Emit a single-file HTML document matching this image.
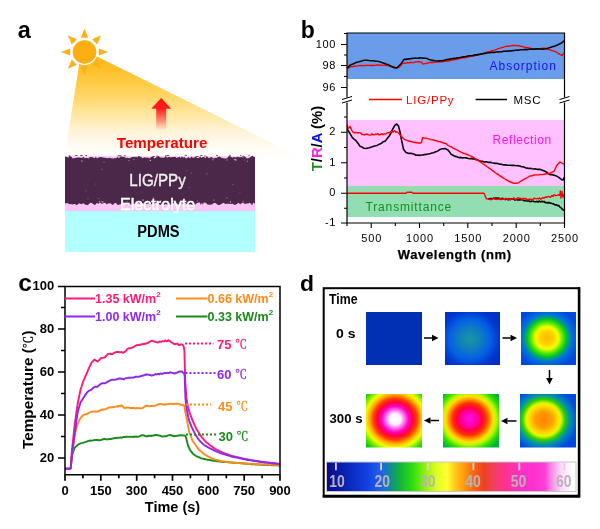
<!DOCTYPE html>
<html><head><meta charset="utf-8"><title>Figure</title>
<style>
html,body{margin:0;padding:0;background:#fff;}
svg{display:block;}
text{font-family:"Liberation Sans","Noto Sans CJK SC",sans-serif;}
.b{font-weight:bold;}
</style></head><body>
<svg width="600" height="529" viewBox="0 0 600 529">
<defs>
<linearGradient id="beam" x1="0" y1="0" x2="0" y2="1">
<stop offset="0" stop-color="#fdb81a"/><stop offset="0.147" stop-color="#fdc02a"/><stop offset="0.36" stop-color="#fed25a"/><stop offset="0.56" stop-color="#fee59a"/><stop offset="0.765" stop-color="#fff5dc"/><stop offset="0.93" stop-color="#fffdf8"/><stop offset="1" stop-color="#fffefc"/>
</linearGradient>
<linearGradient id="arr" x1="0" y1="0" x2="0" y2="1">
<stop offset="0" stop-color="#ff1010"/><stop offset="0.35" stop-color="#ff2020"/><stop offset="0.7" stop-color="#ff4040" stop-opacity="0.6"/><stop offset="1" stop-color="#ff6060" stop-opacity="0.08"/>
</linearGradient>
<linearGradient id="cbar" x1="0" y1="0" x2="1" y2="0">
<stop offset="0" stop-color="#08088a"/>
<stop offset="0.066" stop-color="#0820b0"/>
<stop offset="0.161" stop-color="#1040e0"/>
<stop offset="0.217" stop-color="#2060f0"/>
<stop offset="0.255" stop-color="#108c90"/>
<stop offset="0.29" stop-color="#10b040"/>
<stop offset="0.347" stop-color="#30e010"/>
<stop offset="0.395" stop-color="#90f010"/>
<stop offset="0.442" stop-color="#e0ff20"/>
<stop offset="0.483" stop-color="#ffff30"/>
<stop offset="0.515" stop-color="#ffc818"/>
<stop offset="0.547" stop-color="#ffa010"/>
<stop offset="0.595" stop-color="#f86010"/>
<stop offset="0.631" stop-color="#f04020"/>
<stop offset="0.67" stop-color="#f04060"/>
<stop offset="0.715" stop-color="#ff3090"/>
<stop offset="0.772" stop-color="#ff30c0"/>
<stop offset="0.828" stop-color="#ff30d0"/>
<stop offset="0.876" stop-color="#ff40d8"/>
<stop offset="0.904" stop-color="#ff90e8"/>
<stop offset="0.94" stop-color="#ffd8f8"/>
<stop offset="0.985" stop-color="#ffffff"/>
</linearGradient>
<radialGradient id="t2" cx="0.45" cy="0.51" r="0.62">
<stop offset="0" stop-color="#1a96a0"/><stop offset="0.3" stop-color="#1080bc"/><stop offset="0.6" stop-color="#0460e4"/><stop offset="0.85" stop-color="#0038d0"/><stop offset="1" stop-color="#0030c4"/>
</radialGradient>
<radialGradient id="t3" cx="0.47" cy="0.49" r="0.585">
<stop offset="0" stop-color="#ffb800"/><stop offset="0.2" stop-color="#ffd000"/><stop offset="0.36" stop-color="#f4ff00"/><stop offset="0.5" stop-color="#50e800"/><stop offset="0.62" stop-color="#00c030"/><stop offset="0.75" stop-color="#0078d8"/><stop offset="1" stop-color="#0048e0"/>
</radialGradient>
<radialGradient id="t6" cx="0.42" cy="0.48" r="0.615">
<stop offset="0" stop-color="#ff8400"/><stop offset="0.25" stop-color="#ff9c00"/><stop offset="0.4" stop-color="#ffd800"/><stop offset="0.5" stop-color="#e8f800"/><stop offset="0.62" stop-color="#30d000"/><stop offset="0.76" stop-color="#0090b0"/><stop offset="1" stop-color="#0048e0"/>
</radialGradient>
<radialGradient id="t5" cx="0.47" cy="0.47" r="0.665">
<stop offset="0" stop-color="#ff10e0"/><stop offset="0.2" stop-color="#ff00b0"/><stop offset="0.33" stop-color="#ff0040"/><stop offset="0.45" stop-color="#ff3000"/><stop offset="0.55" stop-color="#ff9000"/><stop offset="0.64" stop-color="#ffe000"/><stop offset="0.72" stop-color="#c0f800"/><stop offset="0.85" stop-color="#30e000"/><stop offset="1" stop-color="#00b040"/>
</radialGradient>
<radialGradient id="t4" cx="0.52" cy="0.47" r="0.72">
<stop offset="0" stop-color="#ffffff"/><stop offset="0.14" stop-color="#fff0ff"/><stop offset="0.24" stop-color="#ff70f0"/><stop offset="0.34" stop-color="#ff00c0"/><stop offset="0.44" stop-color="#ff0040"/><stop offset="0.54" stop-color="#ff4000"/><stop offset="0.64" stop-color="#ffb000"/><stop offset="0.74" stop-color="#f0ff00"/><stop offset="0.88" stop-color="#50e000"/><stop offset="1" stop-color="#00c020"/>
</radialGradient>
</defs>
<rect width="600" height="529" fill="#fff"/>

<g id="panel-a">
<text x="17.800" y="38.300" class="b" font-size="23.5">a</text>
<polygon points="80.5,56 94,55 300,157 64.5,157" fill="url(#beam)"/>
<circle cx="84.5" cy="52" r="13" fill="#fff"/>
<polygon points="98.8,55.6 98.8,48.4 108.1,52.0" fill="#fdb116"/>
<polygon points="92.1,64.7 97.2,59.6 101.2,68.7" fill="#fdb116"/>
<polygon points="80.9,66.3 88.1,66.3 84.5,75.6" fill="#fdb116"/>
<polygon points="71.8,59.6 76.9,64.7 67.8,68.7" fill="#fdb116"/>
<polygon points="70.2,48.4 70.2,55.6 60.9,52.0" fill="#fdb116"/>
<polygon points="76.9,39.3 71.8,44.4 67.8,35.3" fill="#fdb116"/>
<polygon points="88.1,37.7 80.9,37.7 84.5,28.4" fill="#fdb116"/>
<polygon points="97.2,44.4 92.1,39.3 101.2,35.3" fill="#fdb116"/>
<circle cx="84.5" cy="52" r="11.8" fill="#fcae12"/>
<polygon points="161.200,98 171.200,108.800 166.200,108.800 166.200,129.500 156.200,129.500 156.200,108.800 151.200,108.800" fill="url(#arr)"/>
<text x="116.800" y="148.200" class="b" font-size="15.3" fill="#ff0000" textLength="90.600" lengthAdjust="spacingAndGlyphs">Temperature</text>
<rect x="65" y="210.600" width="190" height="41.400" fill="#b1ffff"/>
<rect x="65" y="156.2" width="190" height="55" fill="#fbc4f5"/>
<polygon points="65.0,156.6 66.7,157.0 68.4,157.6 69.3,156.0 71.5,156.7 72.7,158.6 74.2,158.2 75.8,157.7 76.8,157.7 79.0,157.4 81.0,157.7 81.9,158.0 83.6,156.8 84.5,158.3 86.0,157.9 88.2,157.9 90.5,157.0 92.6,157.2 94.9,158.3 95.9,156.4 97.0,158.5 98.5,157.6 99.8,157.3 101.2,156.9 102.9,157.5 105.2,157.8 107.5,158.2 109.9,157.7 110.9,158.2 113.3,158.4 115.0,157.9 116.1,158.2 117.8,156.7 118.7,158.2 121.1,156.2 123.2,157.1 124.2,156.8 126.3,158.3 127.1,157.6 128.0,157.9 129.3,158.3 131.7,157.3 134.1,156.8 135.0,157.6 135.9,156.5 137.3,157.6 138.4,156.1 140.6,156.8 142.9,158.3 144.3,157.2 145.9,157.7 147.7,157.5 149.5,158.4 151.1,157.1 153.0,156.6 154.3,158.5 156.0,157.4 156.8,157.1 158.5,156.1 160.3,157.6 161.2,157.6 162.7,157.8 164.1,157.8 166.1,156.1 167.0,157.8 169.3,156.7 170.8,157.5 172.2,156.9 173.5,157.0 175.2,156.8 176.6,158.0 177.5,157.5 179.4,156.8 180.6,158.1 181.8,156.5 183.3,157.8 184.2,156.8 185.6,158.2 187.1,158.2 188.1,156.9 190.0,158.3 191.5,156.6 192.5,157.4 193.6,158.1 195.7,156.5 197.0,158.1 198.8,158.1 200.2,156.3 201.4,158.1 202.7,156.9 204.1,157.1 205.6,158.4 206.6,156.0 208.9,158.3 211.3,157.1 213.6,158.4 214.8,157.9 216.9,157.7 218.6,156.8 219.9,156.6 220.8,157.5 222.1,158.1 223.0,158.3 224.9,158.4 227.1,158.3 228.8,156.0 230.8,156.4 232.1,157.7 233.7,157.1 236.0,157.6 237.4,156.7 239.6,157.2 241.6,156.9 242.7,157.4 244.8,156.4 246.9,158.4 249.0,158.1 249.8,157.6 252.0,156.1 253.2,156.7 254.9,157.1 255.0,157.5 255.0,204.7 254.2,202.7 253.2,202.8 252.2,205.2 249.9,202.7 248.2,203.4 246.8,203.5 244.9,204.1 243.4,203.0 242.0,202.8 240.2,204.5 238.7,202.7 237.6,203.5 235.7,204.7 234.3,204.7 232.3,203.7 230.9,203.9 228.8,203.7 226.7,203.8 225.5,204.0 223.5,202.7 221.9,203.7 219.5,205.1 218.0,205.0 215.8,203.2 214.2,202.8 211.9,204.4 209.5,204.7 207.5,204.6 205.7,202.8 203.8,202.5 202.8,204.7 201.9,202.8 200.9,205.0 199.8,202.6 197.5,202.8 195.2,204.4 192.9,205.2 191.0,204.7 190.2,204.6 188.4,204.5 187.4,204.6 185.0,202.7 183.6,204.1 181.3,203.2 180.2,203.2 178.3,204.6 176.7,203.5 175.2,203.5 173.7,202.7 172.0,205.2 170.4,204.6 169.3,204.4 167.2,204.4 165.5,203.9 163.5,205.0 162.4,202.8 160.3,205.1 158.5,203.7 156.5,203.0 155.2,203.1 153.3,203.4 152.1,204.4 149.6,203.3 147.5,203.7 145.2,204.1 143.9,203.1 143.1,203.8 141.6,203.0 140.1,203.4 137.9,202.9 135.3,203.8 133.5,203.8 131.2,204.8 129.4,203.8 127.3,204.9 125.7,204.6 123.2,203.8 122.0,203.2 119.9,204.4 117.4,204.9 116.1,203.0 114.9,203.0 112.8,204.9 110.4,203.2 108.0,203.4 106.5,204.5 105.5,202.8 103.2,203.3 101.8,204.1 99.8,202.5 98.4,203.7 96.7,203.1 94.8,205.2 93.3,204.0 92.3,203.3 90.3,202.8 87.9,205.0 86.9,205.1 85.5,204.7 83.3,203.3 81.3,204.3 79.0,203.2 76.9,205.2 74.9,204.0 73.9,203.9 72.4,204.5 70.4,204.1 69.3,204.3 67.3,203.0 65.0,203.5" fill="#4b2849"/>
<ellipse cx="188.9" cy="187.5" rx="0.8" ry="0.5" fill="#7a5078"/>
<ellipse cx="101.8" cy="169.2" rx="0.9" ry="0.7" fill="#7a5078"/>
<ellipse cx="133.8" cy="159.5" rx="1.1" ry="0.5" fill="#8a5f8a"/>
<ellipse cx="128.9" cy="160.3" rx="0.7" ry="0.4" fill="#e9c6e6"/>
<ellipse cx="88.0" cy="198.8" rx="0.6" ry="0.6" fill="#8a5f8a"/>
<ellipse cx="226.9" cy="197.9" rx="0.5" ry="0.7" fill="#b890b6"/>
<ellipse cx="232.8" cy="184.5" rx="1.0" ry="0.5" fill="#7a5078"/>
<ellipse cx="227.0" cy="160.0" rx="0.6" ry="0.7" fill="#b890b6"/>
<ellipse cx="104.0" cy="162.0" rx="0.7" ry="0.7" fill="#8a5f8a"/>
<ellipse cx="95.4" cy="184.0" rx="0.6" ry="0.6" fill="#7a5078"/>
<ellipse cx="239.9" cy="192.2" rx="1.1" ry="0.4" fill="#7a5078"/>
<ellipse cx="81.9" cy="161.0" rx="0.8" ry="0.7" fill="#b890b6"/>
<ellipse cx="143.0" cy="199.9" rx="1.0" ry="0.5" fill="#e9c6e6"/>
<ellipse cx="153.4" cy="198.0" rx="0.9" ry="0.5" fill="#b890b6"/>
<ellipse cx="141.7" cy="192.1" rx="0.7" ry="0.5" fill="#7a5078"/>
<ellipse cx="98.8" cy="198.4" rx="0.5" ry="0.4" fill="#e9c6e6"/>
<ellipse cx="150.3" cy="160.3" rx="0.7" ry="0.6" fill="#e9c6e6"/>
<ellipse cx="102.5" cy="202.0" rx="1.3" ry="0.8" fill="#b890b6"/>
<ellipse cx="213.8" cy="200.1" rx="0.6" ry="0.7" fill="#b890b6"/>
<ellipse cx="247.3" cy="161.2" rx="0.5" ry="0.7" fill="#b890b6"/>
<ellipse cx="234.5" cy="159.4" rx="0.7" ry="0.6" fill="#b890b6"/>
<ellipse cx="243.1" cy="201.7" rx="1.0" ry="0.8" fill="#8a5f8a"/>
<ellipse cx="99.5" cy="201.6" rx="0.9" ry="0.6" fill="#b890b6"/>
<ellipse cx="197.7" cy="201.0" rx="0.5" ry="0.5" fill="#b890b6"/>
<ellipse cx="206.8" cy="173.9" rx="1.2" ry="0.7" fill="#7a5078"/>
<ellipse cx="230.4" cy="201.9" rx="0.6" ry="0.6" fill="#e9c6e6"/>
<ellipse cx="244.8" cy="159.9" rx="0.5" ry="0.5" fill="#8a5f8a"/>
<ellipse cx="186.9" cy="170.5" rx="0.9" ry="0.6" fill="#7a5078"/>
<ellipse cx="235.7" cy="159.9" rx="1.0" ry="0.7" fill="#e9c6e6"/>
<ellipse cx="85.9" cy="191.1" rx="0.6" ry="0.6" fill="#7a5078"/>
<ellipse cx="191.3" cy="172.9" rx="0.9" ry="0.6" fill="#7a5078"/>
<ellipse cx="88.7" cy="158.5" rx="1.0" ry="0.5" fill="#8a5f8a"/>
<ellipse cx="212.8" cy="159.8" rx="0.9" ry="0.5" fill="#b890b6"/>
<ellipse cx="127.1" cy="201.5" rx="0.9" ry="0.6" fill="#8a5f8a"/>
<ellipse cx="243.3" cy="156.3" rx="1.5" ry="0.5" fill="#5b3759"/>
<ellipse cx="157.1" cy="156.1" rx="1.0" ry="0.5" fill="#5b3759"/>
<ellipse cx="252.5" cy="156.3" rx="0.9" ry="0.5" fill="#5b3759"/>
<ellipse cx="240.8" cy="155.4" rx="0.7" ry="0.5" fill="#5b3759"/>
<ellipse cx="201.4" cy="155.6" rx="1.1" ry="0.5" fill="#5b3759"/>
<ellipse cx="185.9" cy="155.2" rx="1.3" ry="0.5" fill="#5b3759"/>
<ellipse cx="118.3" cy="155.7" rx="0.9" ry="0.5" fill="#5b3759"/>
<ellipse cx="205.0" cy="156.1" rx="0.9" ry="0.5" fill="#5b3759"/>
<ellipse cx="86.2" cy="155.6" rx="1.0" ry="0.5" fill="#5b3759"/>
<ellipse cx="81.4" cy="155.4" rx="1.4" ry="0.5" fill="#5b3759"/>
<ellipse cx="197.3" cy="156.4" rx="1.6" ry="0.5" fill="#5b3759"/>
<ellipse cx="230.0" cy="155.6" rx="0.8" ry="0.5" fill="#5b3759"/>
<ellipse cx="125.0" cy="155.8" rx="1.1" ry="0.5" fill="#5b3759"/>
<ellipse cx="167.8" cy="155.6" rx="1.5" ry="0.5" fill="#5b3759"/>
<ellipse cx="120.0" cy="155.8" rx="1.5" ry="0.5" fill="#5b3759"/>
<ellipse cx="217.1" cy="155.6" rx="0.8" ry="0.5" fill="#5b3759"/>
<ellipse cx="217.0" cy="155.2" rx="0.7" ry="0.5" fill="#5b3759"/>
<ellipse cx="165.7" cy="155.8" rx="0.8" ry="0.5" fill="#5b3759"/>
<ellipse cx="76.3" cy="155.4" rx="1.4" ry="0.5" fill="#5b3759"/>
<ellipse cx="153.6" cy="156.4" rx="1.4" ry="0.5" fill="#5b3759"/>
<ellipse cx="249.1" cy="155.2" rx="0.8" ry="0.5" fill="#5b3759"/>
<ellipse cx="69.5" cy="155.7" rx="0.9" ry="0.5" fill="#5b3759"/>
<text x="129.300" y="185.600" font-size="16" fill="#f0f2f0" stroke="#f0f2ea" stroke-width="0.35" textLength="56.500" lengthAdjust="spacingAndGlyphs">LIG/PPy</text>
<text x="120" y="210" font-size="16" fill="#ffffff" stroke="#fff" stroke-width="0.5" textLength="75.300" lengthAdjust="spacingAndGlyphs">Electrolyte</text>
<text x="137.300" y="237.200" class="b" font-size="15.6" fill="#000" textLength="42.300" lengthAdjust="spacingAndGlyphs">PDMS</text>
</g>
<g id="panel-b">
<text x="300.700" y="38.300" class="b" font-size="23">b</text>
<rect x="347" y="33" width="217.5" height="46" fill="#6a9de9"/>
<rect x="347" y="120" width="217.5" height="66.5" fill="#ffc1ff"/>
<rect x="347" y="186" width="217.5" height="31" fill="#92deb2"/>
<polyline points="347.0,68.3 348.5,67.9 350.0,67.1 351.5,66.6 353.0,66.5 354.5,66.2 356.0,66.1 357.5,66.1 359.0,65.6 360.5,65.5 362.0,65.8 363.5,65.5 365.0,65.6 366.7,65.2 368.3,65.4 370.0,65.5 371.7,65.2 373.3,65.5 375.0,65.4 376.7,65.0 378.3,65.0 380.0,65.2 381.7,65.4 383.3,65.1 385.0,65.1 386.5,65.5 388.0,65.6 389.5,66.0 391.0,66.5 392.7,67.0 394.3,67.4 396.0,67.9 397.8,67.4 399.5,67.0 402.0,63.9 404.0,63.2 406.0,63.0 407.6,62.7 409.2,62.7 410.8,62.3 412.4,62.6 414.0,62.5 415.7,61.9 417.3,61.7 419.0,61.7 421.5,62.1 423.0,64.2 424.5,63.6 426.0,63.5 428.0,63.0 430.0,62.4 431.5,62.5 433.0,62.5 434.5,62.4 436.0,62.1 437.5,62.1 439.0,61.7 440.5,61.7 442.0,61.9 443.5,61.6 445.0,61.4 446.5,61.3 448.0,61.1 449.5,60.8 451.0,60.3 452.5,60.1 454.0,59.8 455.5,59.6 457.0,59.2 458.5,58.8 460.0,58.6 461.5,58.1 463.0,57.8 464.5,57.8 466.0,57.6 467.5,57.1 469.0,56.7 470.5,56.3 472.0,56.2 473.5,56.1 475.0,55.7 476.5,55.2 478.0,54.9 479.5,54.2 481.0,53.9 482.5,53.7 484.0,53.1 485.5,52.6 487.0,52.1 488.5,51.8 490.0,51.6 491.7,50.6 493.3,50.4 495.0,49.9 496.7,49.3 498.3,48.7 500.0,48.2 501.8,47.6 503.5,47.2 505.2,46.7 507.0,46.1 508.8,46.3 510.5,45.9 512.2,45.5 514.0,45.4 515.5,45.5 517.0,45.6 518.5,45.8 520.0,46.0 521.5,46.4 523.0,46.8 524.5,47.1 526.0,47.3 527.5,47.6 529.0,47.8 530.5,48.3 532.0,48.7 533.5,48.9 535.0,49.1 536.5,49.1 538.0,48.7 539.5,48.9 541.0,48.7 542.5,48.3 544.0,48.2 545.5,48.5 547.0,49.3 548.5,49.4 550.0,49.7 551.5,50.5 553.0,50.9 554.5,51.3 556.0,51.8 558.0,53.3 560.0,54.3 562.0,55.5 563.5,53.6 564.5,53.0" fill="none" stroke="#ff0000" stroke-width="1.4" stroke-linejoin="round" />
<polyline points="347.0,68.2 348.5,66.9 350.0,65.3 351.5,64.6 353.0,64.1 354.5,63.3 356.0,62.6 357.6,62.0 359.2,61.7 360.8,61.2 362.4,60.8 364.0,60.2 365.6,60.3 367.2,60.3 368.8,60.5 370.4,60.7 372.0,60.7 373.6,60.8 375.2,61.1 376.8,61.3 378.4,61.5 380.0,61.8 381.6,62.5 383.2,62.9 384.8,63.5 386.4,64.2 388.0,64.5 389.7,65.5 391.3,66.3 393.0,67.1 395.0,67.6 397.0,67.9 399.0,65.8 401.0,63.7 402.5,61.6 404.0,59.4 405.6,59.4 407.2,59.1 408.8,58.9 410.4,58.7 412.0,58.4 413.6,58.3 415.2,58.0 416.8,58.2 418.4,58.1 420.0,57.7 421.5,58.0 423.0,58.1 424.5,58.2 426.0,58.3 427.5,58.8 429.0,59.5 430.5,59.8 432.0,60.4 433.5,60.4 435.0,60.8 436.5,61.0 438.0,61.0 439.5,60.9 441.0,60.8 442.5,60.6 444.0,60.3 445.5,59.9 447.0,59.6 448.5,59.4 450.0,58.9 451.7,58.9 453.3,58.4 455.0,58.4 456.7,57.9 458.3,57.8 460.0,57.5 461.5,57.2 463.0,56.9 464.5,56.7 466.0,56.5 467.5,56.1 469.0,55.8 470.5,55.7 472.0,55.7 473.5,55.3 475.0,54.8 476.5,54.9 478.0,54.6 479.5,54.4 481.0,53.9 482.5,53.9 484.0,53.4 485.5,53.4 487.0,53.0 488.5,52.7 490.0,52.8 491.5,52.3 493.0,52.4 494.5,52.4 496.0,52.0 497.5,51.9 499.0,52.0 500.5,51.7 502.0,51.7 503.5,51.3 505.0,51.3 506.5,51.1 508.0,51.2 509.5,50.8 511.0,51.0 512.5,50.5 514.0,50.6 515.5,50.2 517.0,50.1 518.5,50.2 520.0,49.8 521.5,49.7 523.0,49.8 524.5,49.6 526.0,49.4 527.5,49.6 529.0,49.2 530.5,49.1 532.0,49.1 533.5,49.1 535.0,49.1 536.5,48.8 538.0,48.9 539.5,48.8 541.0,49.0 542.5,49.1 544.0,49.1 545.5,48.8 547.0,48.4 548.5,48.0 550.0,47.6 551.7,47.0 553.3,46.4 555.0,46.1 557.0,45.2 559.0,44.3 560.5,43.5 562.0,42.6 564.5,40.5" fill="none" stroke="#0a0a0a" stroke-width="1.6" stroke-linejoin="round" />
<polyline points="347.0,128.8 349.0,132.0 350.5,134.4 352.0,137.1 354.0,139.1 356.0,140.7 358.0,143.2 360.0,146.2 362.0,147.1 364.0,148.3 366.0,148.5 368.0,148.0 369.5,147.8 371.0,147.1 372.5,146.8 374.0,146.1 375.5,145.8 377.0,145.4 378.5,144.6 380.0,144.1 381.7,143.1 383.3,141.7 385.0,141.2 386.5,139.4 388.0,137.5 389.5,135.7 391.0,133.0 392.5,129.5 395.0,125.1 396.7,124.0 398.5,126.1 400.0,131.8 401.5,139.9 403.5,149.2 406.0,152.5 407.7,153.1 409.3,153.4 411.0,153.3 412.7,153.8 414.3,154.3 416.0,155.3 418.0,155.1 420.0,155.4 421.5,155.0 423.0,154.9 424.5,154.6 426.0,154.4 427.5,154.2 429.0,153.8 430.5,153.6 432.0,153.1 433.5,152.7 435.0,152.1 436.5,151.6 438.0,150.9 440.0,149.4 442.0,148.7 443.5,148.7 445.0,148.5 446.5,149.2 448.0,150.1 449.5,151.8 451.0,154.2 453.0,155.3 455.0,156.4 456.5,156.5 458.0,157.3 459.5,157.6 461.0,157.4 462.5,157.9 464.0,157.8 465.5,157.8 467.0,158.1 468.5,158.5 470.0,158.7 471.5,158.4 473.0,158.9 474.6,158.9 476.1,159.8 477.7,159.9 479.3,160.7 480.9,161.2 482.4,161.3 484.0,162.0 485.6,161.8 487.1,161.9 488.7,162.4 490.3,162.3 491.9,162.7 493.4,163.0 495.0,163.4 496.5,163.3 498.0,163.5 499.5,164.2 501.0,164.1 502.5,164.7 504.0,164.9 505.5,164.8 507.0,165.1 508.6,165.2 510.1,165.3 511.7,165.4 513.3,165.4 514.9,165.5 516.4,165.8 518.0,165.6 519.6,166.0 521.1,166.6 522.7,166.7 524.3,167.1 525.9,168.0 527.4,168.1 529.0,168.5 530.5,168.3 532.0,168.7 533.5,169.0 535.0,168.8 536.5,169.3 538.0,169.4 539.5,169.2 541.0,169.7 543.0,170.4 545.0,171.3 546.7,172.2 548.3,173.6 550.0,174.7 551.6,174.6 553.3,174.9 555.0,175.6 556.6,176.1 558.8,177.4 561.0,179.2 563.0,180.1 564.5,177.0" fill="none" stroke="#0a0a0a" stroke-width="1.6" stroke-linejoin="round" />
<polyline points="347.0,124.6 348.0,128.4 349.0,127.8 350.0,126.4 351.0,128.3 352.0,130.8 353.0,132.2 354.0,132.5 355.0,132.9 356.0,132.3 357.0,133.0 358.0,132.7 359.0,132.8 360.0,132.9 361.0,133.2 362.0,134.5 363.0,134.5 364.0,134.7 365.0,134.8 366.0,134.0 367.0,134.2 368.0,134.7 369.0,134.9 370.0,135.1 371.0,135.1 372.0,133.8 373.0,134.7 374.0,134.8 375.0,134.5 376.0,133.9 377.0,134.3 378.0,133.7 379.0,134.9 380.0,134.8 381.0,134.2 382.0,133.7 383.0,134.7 384.0,133.9 385.0,134.1 386.0,133.8 387.0,133.0 388.0,132.6 389.0,132.7 390.0,132.2 391.0,131.6 392.0,131.6 393.0,132.2 394.0,130.8 395.0,131.0 396.0,132.2 397.0,131.9 398.0,132.5 401.0,136.0 402.5,137.6 404.0,139.1 405.5,139.8 407.0,140.3 408.5,141.0 410.0,141.3 411.5,141.7 413.0,142.2 414.5,142.3 416.0,142.7 418.0,142.7 420.0,143.2 421.5,142.4 422.5,137.8 424.2,138.1 426.0,138.1 427.5,138.6 429.0,138.9 430.5,139.6 432.0,139.9 433.5,140.0 435.0,140.6 436.7,140.8 438.3,141.5 440.0,141.8 441.7,142.2 443.3,143.0 445.0,143.2 446.7,144.2 448.3,145.5 450.0,146.4 451.6,147.0 453.1,148.1 454.7,148.8 456.3,149.6 457.9,150.3 459.4,151.4 461.0,152.1 462.5,152.8 464.0,153.5 465.5,153.9 467.0,154.5 468.5,155.1 470.0,155.8 471.5,156.4 473.0,157.1 474.6,158.3 476.1,159.1 477.7,160.4 479.3,161.2 480.9,162.3 482.4,163.5 484.0,164.4 485.6,165.5 487.1,166.7 488.7,167.9 490.3,168.8 491.9,170.3 493.4,171.1 495.0,172.5 496.7,173.7 498.3,174.5 500.0,175.9 501.7,176.9 503.4,178.1 505.0,179.0 506.7,180.1 508.3,180.8 509.9,181.8 511.4,182.2 513.0,183.1 514.7,183.2 516.3,183.2 518.0,182.9 519.5,182.0 521.0,181.2 522.5,180.4 524.1,179.2 525.8,178.4 527.4,177.5 529.0,176.5 530.5,175.9 532.0,175.9 533.5,175.2 535.0,174.9 536.9,174.9 538.8,174.9 540.7,174.5 542.2,174.6 543.8,174.3 545.4,174.0 546.9,173.8 548.5,173.6 550.0,173.3 552.0,172.2 554.0,171.3 556.6,165.8 558.3,163.8 560.0,162.0 562.0,163.2 564.5,164.5" fill="none" stroke="#ff0000" stroke-width="1.4" stroke-linejoin="round" />
<polyline points="488.0,199.1 489.0,198.7 490.0,199.3 491.0,198.4 492.0,198.9 493.0,198.5 494.0,198.0 495.0,198.5 496.0,197.9 497.0,198.5 498.0,198.0 499.0,198.1 500.0,198.6 501.0,199.3 502.0,198.3 503.0,198.5 504.0,199.1 505.0,199.6 506.0,199.2 507.0,199.0 508.0,199.9 509.0,198.6 510.0,199.8 511.0,199.1 512.0,198.9 513.0,199.0 514.0,199.3 515.0,200.1 516.0,199.2 517.0,199.9 518.0,200.0 519.0,199.7 520.0,200.1 521.0,199.6 522.0,199.7 523.0,200.0 524.0,200.8 525.0,200.6 526.0,200.6 527.0,201.1 528.0,201.0 529.0,200.9 530.0,201.6 531.0,201.5 532.0,200.9 533.0,201.4 534.0,201.4 535.0,201.9 536.0,201.8 537.0,201.2 538.0,202.2 539.0,201.0 540.0,201.5 541.0,202.0 542.0,201.2 543.0,201.9 544.0,201.4 545.0,202.4 546.0,202.6 547.0,202.5 548.0,203.1 549.0,202.4 550.0,203.1 551.1,203.3 552.2,203.6 553.3,203.7 554.4,204.6 555.5,205.1 556.6,204.8 557.7,205.7 558.8,205.5 559.9,207.1 561.0,207.7 562.2,209.2 563.3,210.0 564.5,210.5" fill="none" stroke="#0a0a0a" stroke-width="1.6" stroke-linejoin="round" />
<polyline points="347.0,193.3 406.0,193.3 407.0,192.3 412.0,192.3 413.0,193.3 484.0,193.3 485.2,196.0 486.5,198.9 490.0,199.2" fill="none" stroke="#ff0000" stroke-width="1.4" stroke-linejoin="round" />
<polyline points="490.0,199.7 491.0,199.8 492.0,199.1 493.0,198.7 494.0,198.2 495.0,199.4 496.0,199.0 497.0,199.5 498.0,198.8 499.0,199.5 500.0,198.6 501.0,199.5 502.0,199.4 503.0,198.8 504.0,199.0 505.0,199.2 506.0,198.3 507.0,198.9 508.0,199.4 509.0,198.4 510.0,199.3 511.0,199.1 512.0,199.3 513.0,198.4 514.0,197.9 515.0,199.2 516.0,199.2 517.0,198.5 518.0,197.8 519.0,198.0 520.0,198.7 521.0,198.2 522.0,199.4 523.0,198.8 524.0,198.2 525.0,199.0 526.0,198.5 527.0,199.6 528.0,199.6 529.0,199.0 530.0,199.3 531.1,199.3 532.1,199.5 533.2,199.7 534.3,198.0 535.4,198.6 536.4,198.9 537.5,198.4 538.6,198.8 539.6,197.9 540.7,199.3 541.8,198.4 542.8,197.5 543.9,198.2 544.9,197.4 546.0,197.0 547.0,197.3 548.0,196.4 549.0,196.4 550.0,197.4 551.0,196.9 552.0,195.4 553.0,196.5 554.0,194.8 555.0,195.0 556.0,195.7 557.1,195.3 558.1,194.8 559.2,195.0 560.2,195.1 561.3,194.6 562.4,196.3 563.4,194.6 564.5,195.5" fill="none" stroke="#ff0000" stroke-width="1.4" stroke-linejoin="round" />
<polyline points="559.5,196.0 560.3,190.5 561.0,198.5 562.0,191.0 563.0,197.5 564.0,194.0" fill="none" stroke="#ff0000" stroke-width="1" stroke-linejoin="round" />
<path d="M347,33 H564.5 V223 H347 Z" fill="none" stroke="#000" stroke-width="1.2"/>
<rect x="344" y="97.500" width="6" height="5" fill="#fff"/><rect x="561.500" y="97.500" width="6" height="5" fill="#fff"/>
<path d="M342,99.5 l10,-3 M342,103 l10,-3" stroke="#000" stroke-width="1" fill="none"/>
<path d="M559.5,99.5 l10,-3 M559.5,103 l10,-3" stroke="#000" stroke-width="1" fill="none"/>
<text x="335.900" y="47.6" font-size="11" text-anchor="end" letter-spacing="0.6">100</text>
<text x="335.900" y="68.6" font-size="11" text-anchor="end" letter-spacing="0.6">98</text>
<text x="335.900" y="90.6" font-size="11" text-anchor="end" letter-spacing="0.6">96</text>
<text x="335.900" y="135.29999999999998" font-size="11" text-anchor="end" letter-spacing="0.6">2</text>
<text x="335.900" y="165.79999999999998" font-size="11" text-anchor="end" letter-spacing="0.6">1</text>
<text x="335.900" y="196.29999999999998" font-size="11" text-anchor="end" letter-spacing="0.6">0</text>
<text x="335.900" y="226.1" font-size="11" text-anchor="end" letter-spacing="0.6">-1</text>
<text x="371.7" y="242.300" font-size="11" text-anchor="middle" letter-spacing="0.9">500</text>
<text x="420.0" y="242.300" font-size="11" text-anchor="middle" letter-spacing="0.9">1000</text>
<text x="468.3" y="242.300" font-size="11" text-anchor="middle" letter-spacing="0.9">1500</text>
<text x="516.7" y="242.300" font-size="11" text-anchor="middle" letter-spacing="0.9">2000</text>
<text x="565.0" y="242.300" font-size="11" text-anchor="middle" letter-spacing="0.9">2500</text>
<path d="M347,44.5 h-6 M347,65.5 h-6 M347,87.5 h-6 M347,132.2 h-6 M347,162.7 h-6 M347,193.2 h-6 M347,223 h-6 M347,33.5 h-3 M347,55 h-3 M347,76.5 h-3 M347,117 h-3 M347,147.5 h-3 M347,178 h-3 M347,208.2 h-3 M371.2,223 v5 M419.5,223 v5 M467.8,223 v5 M516.2,223 v5 M564.5,223 v5 M347,223 v3 M395.3,223 v3 M443.7,223 v3 M492,223 v3 M540.3,223 v3" stroke="#000" stroke-width="1.1" fill="none"/>
<text x="454.800" y="258.800" class="b" font-size="13" text-anchor="middle" letter-spacing="0.65" stroke="#000" stroke-width="0.25">Wavelength (nm)</text>
<text transform="translate(321.800,138.600) rotate(-90)" class="b" font-size="15.2" text-anchor="middle" textLength="65.500" lengthAdjust="spacingAndGlyphs"><tspan fill="#1e8c1e">T</tspan><tspan fill="#000">/</tspan><tspan fill="#ff20e0">R</tspan><tspan fill="#000">/</tspan><tspan fill="#1010f0">A</tspan><tspan fill="#000"> (%)</tspan></text>
<path d="M369,99.5 H402" stroke="#ff0000" stroke-width="1.4"/>
<text x="406" y="103.800" font-size="11.5" fill="#ff0000" letter-spacing="0.8">LIG/PPy</text>
<path d="M475.600,99.5 H507" stroke="#000" stroke-width="1.5"/>
<text x="513.500" y="103.500" font-size="11.5" fill="#000" letter-spacing="0.7">MSC</text>
<text x="489.500" y="69.500" font-size="12" fill="#1414f0" letter-spacing="1">Absorption</text>
<text x="492.500" y="144" font-size="12" fill="#f818e8" letter-spacing="0.6">Reflection</text>
<text x="365.500" y="211" font-size="12" fill="#0a9418" letter-spacing="0.85">Transmittance</text>
</g>
<g id="panel-c">
<text x="18.200" y="290.700" class="b" font-size="24.5">c</text>
<polyline points="65.0,468.8 66.1,468.8 67.2,468.8 68.2,468.8 69.3,468.8 70.7,468.3 72.0,454.8 73.0,452.4 73.9,450.0 74.8,447.7 75.8,446.7 76.7,445.8 77.7,444.8 78.6,444.3 79.6,443.9 80.5,443.4 81.5,443.1 82.4,442.9 83.3,442.6 84.2,442.4 85.0,442.1 85.8,441.9 86.6,441.6 87.4,441.3 88.2,440.9 89.0,440.8 89.8,440.8 90.6,440.5 91.5,440.6 92.3,440.6 93.1,440.5 93.9,440.1 94.7,440.0 95.5,440.1 96.3,439.9 97.1,440.0 97.9,439.9 98.7,440.3 99.5,440.1 100.4,440.3 101.2,439.8 102.0,439.8 102.8,439.3 103.6,439.2 104.4,438.8 105.2,439.2 106.0,439.2 106.8,439.4 107.7,439.4 108.5,439.3 109.3,439.0 110.1,439.2 110.9,439.0 111.7,438.7 112.5,438.6 113.3,438.6 114.1,438.1 114.9,438.0 115.8,438.0 116.6,438.1 117.4,437.6 118.2,437.8 119.0,437.8 119.8,437.6 120.6,437.4 121.4,437.7 122.2,437.6 123.1,437.1 123.9,436.9 124.7,437.1 125.5,436.8 126.3,436.7 127.1,436.6 127.9,436.9 128.7,436.9 129.5,436.8 130.3,436.6 131.2,436.9 132.0,437.0 132.8,436.6 133.6,436.7 134.4,437.0 135.2,436.6 136.0,436.4 136.8,436.9 137.6,436.8 138.4,436.6 139.3,436.4 140.1,436.1 140.9,435.6 141.7,435.3 142.5,435.2 143.3,435.4 144.1,435.5 144.9,435.8 145.7,436.2 146.5,436.5 147.3,436.0 148.2,436.2 149.0,435.8 149.8,435.7 150.6,435.7 151.4,436.0 152.2,435.7 153.0,435.7 153.8,435.3 154.6,435.2 155.4,435.0 156.3,435.0 157.1,435.1 157.9,435.3 158.7,435.3 159.5,435.7 160.3,435.8 161.1,436.1 161.9,436.4 162.7,436.7 163.5,436.4 164.4,436.2 165.2,436.4 166.0,436.3 166.8,436.0 167.6,435.7 168.4,435.4 169.2,435.2 170.0,434.9 170.8,435.3 171.7,435.5 172.5,435.7 173.3,436.0 174.1,436.3 174.9,436.0 175.7,436.1 176.5,436.0 177.3,435.7 178.1,435.5 179.0,435.6 179.8,435.3 180.7,435.3 181.6,435.3 182.5,435.5 183.4,435.4 184.3,435.5 185.4,435.8 186.6,439.8 188.0,445.5 189.0,447.6 189.9,449.8 190.9,451.1 191.9,452.4 192.8,453.7 193.9,454.4 195.0,455.2 196.2,456.1 197.2,456.5 198.2,457.0 199.3,457.4 200.3,457.9 201.3,458.3 202.4,458.6 203.3,458.8 204.2,459.0 205.1,459.2 206.0,459.3 206.9,459.6 207.8,459.8 208.7,459.9 209.7,460.0 210.6,460.2 211.5,460.3 212.4,460.7 213.3,460.6 214.3,460.9 215.2,460.9 216.1,461.1 217.1,461.2 218.0,461.3 218.9,461.4 219.9,461.5 220.8,461.6 221.7,461.7 222.7,462.0 223.6,461.9 224.5,462.0 225.4,462.1 226.4,462.1 227.3,462.1 228.2,462.3 229.1,462.3 230.1,462.4 231.0,462.5 231.9,462.5 232.9,462.6 233.8,462.7 234.7,462.8 235.6,462.8 236.6,462.9 237.5,463.0 238.4,463.0 239.3,463.0 240.3,463.1 241.2,463.2 242.1,463.2 243.1,463.4 244.0,463.5 244.9,463.5 245.9,463.7 246.8,463.7 247.7,463.8 248.7,463.9 249.6,464.0 250.5,464.0 251.5,464.2 252.4,464.1 253.3,464.3 254.2,464.4 255.2,464.4 256.1,464.5 257.0,464.4 257.9,464.5 258.9,464.5 259.8,464.6 260.7,464.7 261.6,464.6 262.5,464.7 263.5,464.8 264.4,464.8 265.3,464.8 266.2,465.0 267.1,465.0 268.1,464.9 269.0,465.0 269.9,465.0 270.8,465.0 271.7,465.2 272.7,465.2 273.6,465.2 274.5,465.3 275.4,465.3 276.3,465.4 277.2,465.3 278.2,465.5 279.1,465.5 280.0,465.5" fill="none" stroke="#1a8a1a" stroke-width="1.9" stroke-linejoin="round" />
<polyline points="65.0,468.8 66.1,468.8 67.2,468.8 68.2,468.8 69.3,468.8 70.7,468.3 72.0,454.8 73.0,448.1 73.9,441.5 74.8,434.9 75.8,431.1 76.7,427.3 77.7,423.6 78.6,421.7 79.6,419.8 80.5,417.9 81.5,417.0 82.4,416.0 83.3,415.0 84.2,414.7 85.0,414.5 85.8,414.2 86.6,414.1 87.4,413.7 88.2,413.2 89.0,412.7 89.8,412.6 90.6,411.9 91.5,411.7 92.3,411.6 93.1,411.5 93.9,411.6 94.7,411.7 95.5,411.5 96.3,411.6 97.1,411.7 97.9,411.3 98.7,411.3 99.5,410.9 100.4,410.3 101.2,409.6 102.0,409.7 102.8,409.3 103.6,409.5 104.4,409.4 105.2,409.4 106.0,409.2 106.9,408.6 107.7,408.1 108.5,407.7 109.3,407.5 110.1,407.3 110.9,407.3 111.7,407.3 112.5,407.4 113.3,407.2 114.1,407.1 114.9,406.8 115.7,406.6 116.6,406.4 117.4,406.7 118.2,406.0 119.1,406.2 119.9,406.0 120.8,405.8 121.6,405.2 122.6,406.4 123.5,407.2 124.5,408.1 125.3,407.8 126.2,407.9 127.0,407.5 127.9,407.4 128.7,407.6 129.5,408.0 130.3,408.0 131.1,407.9 132.0,408.0 132.8,408.1 133.6,407.8 134.4,408.0 135.2,408.3 136.0,408.5 136.8,408.0 137.6,408.0 138.4,408.3 139.3,408.4 140.1,408.2 140.9,408.4 141.7,408.4 142.5,408.0 143.3,407.6 144.1,407.1 144.9,406.3 145.7,405.9 146.5,405.8 147.3,405.8 148.2,405.8 149.0,406.1 149.8,406.3 150.6,406.2 151.4,406.0 152.2,406.1 153.0,406.0 153.8,405.9 154.6,405.9 155.5,405.5 156.3,405.2 157.1,404.8 157.9,404.4 158.7,404.2 159.5,404.2 160.3,403.9 161.1,404.2 161.9,404.2 162.7,404.4 163.5,404.7 164.4,404.7 165.2,404.3 166.0,404.5 166.8,404.4 167.6,404.2 168.4,404.0 169.2,403.8 170.0,403.9 170.8,403.8 171.7,403.6 172.5,404.0 173.3,404.2 174.1,403.8 174.9,403.9 175.7,404.0 176.5,403.7 177.3,403.6 178.1,403.9 179.0,403.8 179.8,404.1 180.8,404.8 181.7,405.1 182.7,404.9 183.7,405.1 184.4,406.4 185.4,412.8 187.1,420.8 188.1,426.4 189.2,432.0 190.4,435.0 191.5,438.0 192.7,441.0 193.6,442.2 194.6,443.6 195.5,445.0 196.4,446.2 197.4,447.7 198.3,448.9 199.4,450.0 200.4,451.0 201.5,451.8 202.5,452.8 203.6,453.8 204.5,454.3 205.5,454.8 206.4,455.5 207.4,456.1 208.3,456.7 209.3,457.1 210.3,457.5 211.3,458.0 212.3,458.5 213.3,458.8 214.3,459.3 215.2,459.6 216.2,459.9 217.1,460.0 218.0,460.2 219.0,460.6 219.9,460.8 220.8,461.0 221.7,461.2 222.7,461.4 223.6,461.5 224.6,461.7 225.5,461.8 226.5,461.9 227.4,462.1 228.4,462.3 229.4,462.2 230.3,462.5 231.3,462.6 232.2,462.8 233.1,462.8 234.1,462.9 235.0,462.9 235.9,463.0 236.8,463.0 237.7,463.0 238.7,463.1 239.6,463.1 240.5,463.2 241.4,463.3 242.3,463.4 243.2,463.5 244.2,463.5 245.1,463.5 246.0,463.6 246.9,463.7 247.8,463.8 248.8,463.8 249.7,463.9 250.6,463.8 251.5,463.9 252.4,463.9 253.4,464.0 254.3,464.0 255.2,464.2 256.1,464.3 257.0,464.2 257.9,464.3 258.9,464.4 259.8,464.4 260.7,464.3 261.6,464.5 262.5,464.4 263.5,464.4 264.4,464.4 265.3,464.6 266.2,464.7 267.1,464.6 268.1,464.6 269.0,464.7 269.9,464.6 270.8,464.8 271.7,464.8 272.7,464.8 273.6,464.8 274.5,464.8 275.4,464.9 276.3,465.0 277.2,465.1 278.2,465.0 279.1,465.0 280.0,465.1" fill="none" stroke="#ff8c1a" stroke-width="1.9" stroke-linejoin="round" />
<polyline points="65.0,468.8 66.1,468.8 67.2,468.8 68.2,468.8 69.3,468.8 70.7,468.3 72.0,449.1 73.0,440.6 73.9,432.1 74.8,423.6 75.8,416.9 76.7,410.3 77.7,403.7 78.6,399.0 79.6,394.3 80.5,389.5 81.5,386.7 82.4,383.8 83.3,381.0 84.3,378.9 85.2,376.6 86.2,374.3 87.1,372.5 88.1,370.1 89.0,367.9 90.0,365.8 90.9,363.8 91.9,362.2 92.8,361.3 93.7,360.3 94.7,359.6 95.6,360.4 96.6,360.8 97.5,361.5 98.5,360.6 99.4,359.9 100.4,358.6 101.2,358.0 102.0,357.9 102.8,357.9 103.6,357.7 104.4,357.5 105.2,357.1 106.0,356.0 106.9,355.1 107.7,354.2 108.5,353.9 109.3,353.7 110.1,354.0 110.9,353.8 111.7,354.3 112.5,354.1 113.3,353.4 114.1,352.6 114.9,352.8 115.7,352.1 116.6,351.9 117.4,352.0 118.2,352.0 119.0,352.0 119.8,352.5 120.6,352.1 121.4,352.0 122.2,352.4 123.1,352.9 123.9,352.4 124.7,351.7 125.5,351.3 126.3,350.6 127.1,349.3 127.9,348.8 128.7,348.3 129.5,348.3 130.3,348.2 131.1,348.0 132.0,347.6 132.8,347.3 133.6,347.0 134.4,346.4 135.2,346.2 136.0,345.4 136.8,345.1 137.6,345.0 138.4,345.1 139.3,344.6 140.1,344.8 140.9,344.7 141.7,344.1 142.5,344.1 143.3,344.3 144.1,343.5 144.9,344.1 145.7,343.9 146.5,343.1 147.3,343.0 148.2,342.9 149.0,342.1 149.8,341.7 150.6,341.3 151.4,340.9 152.2,340.8 153.0,341.1 153.8,341.4 154.6,341.7 155.5,342.0 156.3,342.2 157.1,342.2 157.9,342.5 158.7,342.2 159.5,341.5 160.3,341.7 161.1,341.9 161.9,341.3 162.7,341.2 163.5,341.4 164.4,341.2 165.2,340.5 166.0,340.8 166.8,341.2 167.6,340.8 168.4,340.1 169.4,341.1 170.3,341.3 171.2,342.4 172.2,342.6 173.1,343.3 174.1,343.9 175.0,344.4 176.0,343.9 176.9,343.8 177.9,344.0 178.8,345.0 179.8,345.0 180.7,344.4 181.6,344.4 182.6,344.7 183.7,346.4 184.4,350.5 185.2,380.6 186.4,397.8 188.0,407.4 189.2,411.1 190.4,415.0 191.6,417.9 192.7,420.9 193.6,422.9 194.5,424.9 195.5,426.9 196.4,429.0 197.3,430.4 198.3,432.0 199.3,433.4 200.2,435.1 201.2,436.4 202.1,437.6 203.1,438.6 204.0,439.8 205.0,440.8 205.9,441.9 206.9,442.7 207.9,443.3 208.8,444.1 209.8,445.1 210.7,445.7 211.6,446.3 212.5,447.1 213.4,447.8 214.4,448.2 215.3,449.0 216.2,449.4 217.1,449.8 218.0,450.4 219.0,450.7 219.9,451.3 220.8,451.6 221.7,452.1 222.7,452.7 223.6,452.9 224.6,453.3 225.6,453.7 226.6,454.0 227.6,454.3 228.5,454.6 229.5,455.1 230.5,455.5 231.5,455.8 232.5,456.1 233.4,456.3 234.3,456.5 235.2,456.7 236.1,457.0 237.0,457.1 237.9,457.3 238.8,457.5 239.7,457.8 240.6,458.1 241.5,458.2 242.4,458.3 243.3,458.7 244.2,458.8 245.1,459.0 246.0,459.1 246.9,459.3 247.8,459.5 248.8,459.7 249.7,459.8 250.6,460.0 251.5,460.1 252.4,460.4 253.4,460.4 254.3,460.6 255.2,460.8 256.1,461.0 257.0,461.1 257.9,461.3 258.9,461.3 259.8,461.5 260.7,461.7 261.6,461.9 262.5,461.9 263.5,462.2 264.4,462.1 265.3,462.4 266.2,462.4 267.1,462.5 268.1,462.8 269.0,462.9 269.9,462.8 270.8,463.0 271.7,463.2 272.7,463.2 273.6,463.3 274.5,463.3 275.4,463.4 276.3,463.6 277.2,463.8 278.2,463.9 279.1,463.9 280.0,464.0" fill="none" stroke="#ff1a78" stroke-width="1.9" stroke-linejoin="round" />
<polyline points="65.0,468.8 66.1,468.8 67.2,468.8 68.2,468.8 69.3,468.8 70.7,468.3 72.0,454.8 73.0,447.2 73.9,439.6 74.8,432.1 75.8,425.5 76.7,418.8 77.7,412.2 78.6,408.9 79.6,405.6 80.5,402.3 81.5,400.9 82.4,399.4 83.3,398.0 84.3,396.6 85.2,395.1 86.2,393.6 87.1,392.4 88.1,391.5 89.0,390.6 90.0,390.4 90.9,389.9 91.9,389.2 92.8,388.2 93.7,387.6 94.7,386.7 95.6,386.7 96.6,386.6 97.5,386.8 98.5,385.8 99.4,385.1 100.4,384.2 101.2,383.5 102.0,383.4 102.8,383.3 103.6,383.3 104.4,383.2 105.2,383.2 106.0,382.8 106.9,382.1 107.7,381.7 108.5,381.3 109.3,380.9 110.1,380.3 110.9,380.3 111.7,379.8 112.5,379.7 113.3,379.9 114.1,379.9 114.9,379.5 115.7,379.6 116.6,379.3 117.4,378.9 118.2,378.7 119.0,378.7 119.8,378.3 120.6,378.5 121.4,378.8 122.2,378.8 123.1,379.0 123.9,379.4 124.7,378.8 125.5,378.1 126.3,378.2 127.1,378.1 127.9,377.8 128.7,377.7 129.5,377.8 130.3,377.7 131.1,377.6 132.0,377.6 132.8,377.5 133.6,377.7 134.4,377.2 135.2,377.0 136.0,376.5 136.8,376.9 137.6,376.7 138.4,376.8 139.3,376.4 140.1,376.6 140.9,376.2 141.7,376.0 142.5,375.5 143.3,375.7 144.1,375.3 144.9,374.9 145.7,374.4 146.5,374.8 147.3,374.5 148.2,374.6 149.0,374.6 149.8,375.1 150.6,375.2 151.4,375.6 152.2,375.3 153.0,375.4 153.8,375.0 154.6,374.6 155.5,374.0 156.3,374.5 157.1,374.1 157.9,374.0 158.7,374.0 159.5,374.3 160.3,373.5 161.1,373.7 161.9,373.6 162.7,373.8 163.5,373.2 164.4,373.2 165.2,373.0 166.0,373.2 166.8,372.8 167.6,372.9 168.4,373.0 169.2,372.9 170.0,372.3 170.8,372.4 171.7,372.8 172.5,372.9 173.3,373.0 174.1,373.5 174.9,373.6 175.7,373.0 176.5,372.7 177.3,372.6 178.1,372.1 179.0,371.6 179.8,371.4 180.6,371.5 181.5,371.5 182.3,371.8 183.2,372.9 184.0,373.1 184.7,376.2 185.4,397.8 186.6,408.6 188.3,417.2 189.2,420.8 190.4,423.8 191.6,426.9 192.8,429.4 194.0,431.8 195.2,434.4 196.4,436.1 197.6,438.0 198.8,439.6 199.7,440.7 200.7,441.8 201.6,442.7 202.6,443.6 203.6,444.7 204.6,445.3 205.6,445.8 206.7,446.5 207.7,447.1 208.7,447.6 209.8,448.4 210.7,448.7 211.7,449.2 212.6,449.6 213.6,450.1 214.5,450.7 215.5,451.1 216.5,451.6 217.5,451.9 218.6,452.3 219.6,452.8 220.6,453.2 221.6,453.4 222.7,453.9 223.6,454.2 224.6,454.4 225.6,454.7 226.6,455.1 227.6,455.3 228.5,455.5 229.5,455.9 230.5,456.1 231.5,456.5 232.5,456.7 233.4,456.8 234.3,457.2 235.2,457.2 236.1,457.5 237.0,457.6 237.9,457.9 238.8,458.0 239.7,458.3 240.6,458.4 241.5,458.7 242.4,458.9 243.3,459.1 244.2,459.3 245.1,459.4 246.0,459.6 246.9,459.8 247.8,459.8 248.8,460.0 249.7,460.1 250.6,460.4 251.5,460.6 252.4,460.5 253.4,460.7 254.3,461.0 255.2,461.1 256.1,461.1 257.0,461.4 257.9,461.5 258.9,461.6 259.8,461.7 260.7,461.8 261.6,462.0 262.5,462.0 263.5,462.1 264.4,462.2 265.3,462.4 266.2,462.5 267.1,462.6 268.1,462.7 269.0,462.7 269.9,462.9 270.8,463.1 271.7,463.1 272.7,463.2 273.6,463.4 274.5,463.4 275.4,463.5 276.3,463.5 277.2,463.7 278.2,463.8 279.1,463.9 280.0,464.0" fill="none" stroke="#8c28f0" stroke-width="1.9" stroke-linejoin="round" />
<path d="M65,286.5 H280 V474.8 H65 Z" fill="none" stroke="#000" stroke-width="1.5"/>
<text x="54.300" y="461.6" class="b" font-size="13" text-anchor="end">20</text>
<text x="54.300" y="418.6" class="b" font-size="13" text-anchor="end">40</text>
<text x="54.300" y="375.6" class="b" font-size="13" text-anchor="end">60</text>
<text x="54.300" y="332.6" class="b" font-size="13" text-anchor="end">80</text>
<text x="54.300" y="290.1" class="b" font-size="13" text-anchor="end">100</text>
<text x="65.0" y="494.800" class="b" font-size="13" text-anchor="middle">0</text>
<text x="100.8" y="494.800" class="b" font-size="13" text-anchor="middle">150</text>
<text x="136.7" y="494.800" class="b" font-size="13" text-anchor="middle">300</text>
<text x="172.5" y="494.800" class="b" font-size="13" text-anchor="middle">450</text>
<text x="208.3" y="494.800" class="b" font-size="13" text-anchor="middle">600</text>
<text x="244.2" y="494.800" class="b" font-size="13" text-anchor="middle">750</text>
<text x="280.0" y="494.800" class="b" font-size="13" text-anchor="middle">900</text>
<path d="M65,458.0 h-7 M65,415.0 h-7 M65,372.0 h-7 M65,329.0 h-7 M65,286.5 h-7 M65,436.5 h-4 M65,393.5 h-4 M65,350.5 h-4 M65,307.5 h-4 M65.0,474.8 v6 M100.8,474.8 v6 M136.7,474.8 v6 M172.5,474.8 v6 M208.3,474.8 v6 M244.2,474.8 v6 M280.0,474.8 v6 M82.9,474.8 v3.5 M118.8,474.8 v3.5 M154.6,474.8 v3.5 M190.4,474.8 v3.5 M226.3,474.8 v3.5 M262.1,474.8 v3.5" stroke="#000" stroke-width="1.7" fill="none"/>
<text x="172.500" y="511.800" class="b" font-size="14.5" text-anchor="middle">Time (s)</text>
<text transform="translate(33.200,449) rotate(-90)" class="b" font-size="15.3">Temperature (<tspan font-weight="normal" font-size="12.5" stroke="#000" stroke-width="0.3" style="font-family:'Noto Serif CJK SC','Noto Sans CJK SC',serif">℃</tspan>)</text>
<path d="M64.5,298.5 H95" stroke="#ff1a78" stroke-width="2"/>
<text x="95" y="303.0" class="b" font-size="12.5" fill="#ff1a78">1.35 kW/m<tspan font-size="8" dy="-5.800">2</tspan></text>
<path d="M64.5,316.5 H95" stroke="#8c28f0" stroke-width="2"/>
<text x="95" y="321.0" class="b" font-size="12.5" fill="#8c28f0">1.00 kW/m<tspan font-size="8" dy="-5.800">2</tspan></text>
<path d="M176,298.5 H207.5" stroke="#ff8c1a" stroke-width="2"/>
<text x="207.5" y="303.0" class="b" font-size="12.5" fill="#ff8c1a">0.66 kW/m<tspan font-size="8" dy="-5.800">2</tspan></text>
<path d="M176,316.5 H207.5" stroke="#1a8a1a" stroke-width="2"/>
<text x="207.5" y="321.0" class="b" font-size="12.5" fill="#1a8a1a">0.33 kW/m<tspan font-size="8" dy="-5.800">2</tspan></text>
<path d="M185,343.5 H213.5" stroke="#ff1a78" stroke-width="2" stroke-dasharray="2,2"/>
<text x="217" y="349.3" class="b" font-size="13" fill="#ff1a78">75 <tspan font-weight="normal" font-size="12" stroke="#ff1a78" stroke-width="0.3" style="font-family:'Noto Serif CJK SC','Noto Sans CJK SC',serif">℃</tspan></text>
<path d="M185.5,373 H217.5" stroke="#8c28f0" stroke-width="2" stroke-dasharray="2,2"/>
<text x="217" y="379.3" class="b" font-size="13" fill="#8c28f0">60 <tspan font-weight="normal" font-size="12" stroke="#8c28f0" stroke-width="0.3" style="font-family:'Noto Serif CJK SC','Noto Sans CJK SC',serif">℃</tspan></text>
<path d="M186,404.5 H211" stroke="#ff8c1a" stroke-width="2" stroke-dasharray="2,2"/>
<text x="218" y="410.5" class="b" font-size="13" fill="#ff8c1a">45 <tspan font-weight="normal" font-size="12" stroke="#ff8c1a" stroke-width="0.3" style="font-family:'Noto Serif CJK SC','Noto Sans CJK SC',serif">℃</tspan></text>
<path d="M186,434.5 H218" stroke="#1a8a1a" stroke-width="2" stroke-dasharray="2,2"/>
<text x="218.5" y="441.0" class="b" font-size="13" fill="#1a8a1a">30 <tspan font-weight="normal" font-size="12" stroke="#1a8a1a" stroke-width="0.3" style="font-family:'Noto Serif CJK SC','Noto Sans CJK SC',serif">℃</tspan></text>
</g>
<g id="panel-d">
<text x="300" y="290.500" class="b" font-size="22" textLength="14" lengthAdjust="spacingAndGlyphs">d</text>
<rect x="323.700" y="288.200" width="255.300" height="208.300" fill="#fff" stroke="#000" stroke-width="2"/>
<text x="329" y="304.300" class="b" font-size="14.2" textLength="28.5" lengthAdjust="spacingAndGlyphs">Time</text>
<text x="336" y="337.800" class="b" font-size="13.5" textLength="19.5" lengthAdjust="spacingAndGlyphs">0 s</text>
<text x="329.500" y="423.300" class="b" font-size="13.5" textLength="33" lengthAdjust="spacingAndGlyphs">300 s</text>
<rect x="366" y="312" width="56" height="53" fill="#0230b4"/>
<rect x="445" y="312" width="55" height="53" fill="url(#t2)"/>
<rect x="521" y="312" width="55" height="53" fill="url(#t3)"/>
<rect x="366" y="394" width="56" height="53.500" fill="url(#t4)"/>
<rect x="443" y="394" width="56" height="53.500" fill="url(#t5)"/>
<rect x="520" y="394" width="56" height="53.500" fill="url(#t6)"/>
<path d="M424,338 L432.0,338.0" stroke="#000" stroke-width="1.5"/>
<polygon points="438.5,338 432.0,341.3 432.0,334.7" fill="#000"/>
<path d="M502.5,338 L510.5,338.0" stroke="#000" stroke-width="1.5"/>
<polygon points="517,338 510.5,341.3 510.5,334.7" fill="#000"/>
<path d="M549.5,370 L549.5,378.0" stroke="#000" stroke-width="1.5"/>
<polygon points="549.5,384.5 546.2,378.0 552.8,378.0" fill="#000"/>
<path d="M516.5,421 L507.5,421.0" stroke="#000" stroke-width="1.5"/>
<polygon points="501,421 507.5,417.7 507.5,424.3" fill="#000"/>
<path d="M439,420.5 L430.5,420.5" stroke="#000" stroke-width="1.5"/>
<polygon points="424,420.5 430.5,417.2 430.5,423.8" fill="#000"/>
<rect x="326.500" y="462" width="249.500" height="29.500" fill="url(#cbar)" stroke="#c8c8c8" stroke-width="1"/>
<text x="336.9" y="487.100" class="b" font-size="16.5" fill="#bab2ba" text-anchor="middle" textLength="15.500" lengthAdjust="spacingAndGlyphs">10</text>
<text x="382.3" y="487.100" class="b" font-size="16.5" fill="#bab2ba" text-anchor="middle" textLength="15.500" lengthAdjust="spacingAndGlyphs">20</text>
<text x="427.8" y="487.100" class="b" font-size="16.5" fill="#bab2ba" text-anchor="middle" textLength="15.500" lengthAdjust="spacingAndGlyphs">30</text>
<text x="473.1" y="487.100" class="b" font-size="16.5" fill="#bab2ba" text-anchor="middle" textLength="15.500" lengthAdjust="spacingAndGlyphs">40</text>
<text x="518.5" y="487.100" class="b" font-size="16.5" fill="#bab2ba" text-anchor="middle" textLength="15.500" lengthAdjust="spacingAndGlyphs">50</text>
<text x="563.8" y="487.100" class="b" font-size="16.5" fill="#bab2ba" text-anchor="middle" textLength="15.500" lengthAdjust="spacingAndGlyphs">60</text>
<path d="M335.9,462.800 v7.500 M381.1,462.800 v7.500 M427.8,462.800 v7.500 M473.4,462.800 v7.500 M519.3,462.800 v7.500 M564.4,462.800 v7.500" stroke="#dcd4d8" stroke-width="1.8" fill="none"/>
<path d="M579.100,287.200 V497.400 M322.700,496.100 H580.300" stroke="#000" stroke-width="2.600" fill="none"/>
</g>
</svg></body></html>
